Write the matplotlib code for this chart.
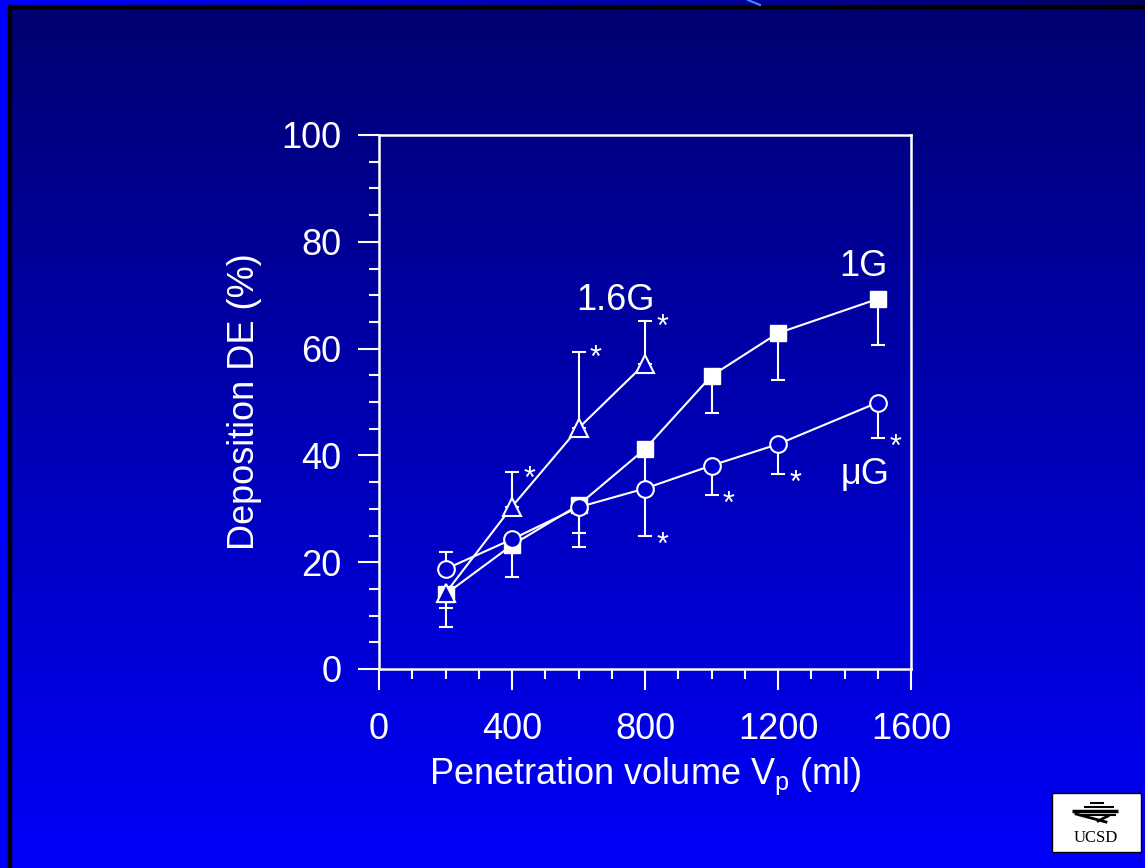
import numpy as np
import matplotlib
matplotlib.use('Agg')
import matplotlib.pyplot as plt
from matplotlib.patches import Rectangle

plt.rcParams['font.family'] = ['Liberation Sans', 'DejaVu Sans']

# data
vol_16g = [200, 400, 600, 800]
de_16g = [14.2, 30.4, 45.1, 57.2]
err_16g_lo = [6.3, 0, 0, 0]
err_16g_hi = [0, 6.4, 14.2, 8.0]

vol_1g = [200, 400, 600, 800, 1000, 1200, 1500]
de_1g = [14.0, 23.2, 30.7, 41.2, 54.9, 62.9, 69.3]
err_1g_lo = [2.6, 5.9, 7.9, 7.4, 6.9, 8.7, 8.6]

vol_ug = [200, 400, 600, 800, 1000, 1200, 1500]
de_ug = [18.7, 24.3, 30.3, 33.8, 38.1, 42.1, 49.9]
err_ug_lo = [0, 0, 4.8, 8.9, 5.5, 5.6, 6.7]
err_ug_hi = [3.2, 0, 0, 0, 0, 0, 0]

star_16g = [1, 2, 3]      # indices with significance marks
star_ug = [3, 4, 5, 6]

W, H = 1145, 868
fig = plt.figure(figsize=(W / 100, H / 100), dpi=100)

# slide background
bg = fig.add_axes([0, 0, 1, 1])
bg.set_xlim(0, W)
bg.set_ylim(H, 0)
bg.axis('off')
grad = np.linspace(0, 1, 256).reshape(-1, 1)
top_c = np.array([0, 0, 112]) / 255
bot_c = np.array([0, 0, 250]) / 255
img = top_c + grad[..., None] * (bot_c - top_c)
bg.imshow(img, extent=[0, W, H, 0], aspect='auto', zorder=0)
# frame strips
strip = np.linspace(0, 1, 256).reshape(1, -1)
left_c = np.array([0, 0, 255]) / 255
right_c = np.array([0, 0, 100]) / 255
simg = left_c + strip[..., None] * (right_c - left_c)
bg.imshow(simg, extent=[0, W, 5, 0], aspect='auto', zorder=1)
bg.add_patch(Rectangle((0, 0), 8, H, color='#0000ff', zorder=2))
bg.add_patch(Rectangle((8, 5), 2.5, H, color='black', zorder=3))
bg.add_patch(Rectangle((8, 5), W, 2.5, color='black', zorder=3))
bg.plot([748, 760], [0, 5], color='#3d8cff', lw=1.5, zorder=4)

# UCSD logo
bg.add_patch(Rectangle((1052, 793), 89, 59, facecolor='white', edgecolor='black', lw=1, zorder=5))
bg.text(1096, 838, 'UCSD', family=['Liberation Serif'], fontsize=12, color='black',
        ha='center', va='center', zorder=6)
for (x0, x1, y, lw) in [(1090, 1104, 803, 1.5), (1084, 1114, 807, 1.5),
                        (1072, 1118, 811, 2.5), (1078, 1116, 815, 1.5)]:
    bg.plot([x0, x1], [y, y], color='black', lw=lw, zorder=6, solid_capstyle='butt')
bg.plot([1076, 1106], [814, 822], color='black', lw=2, zorder=6)
bg.plot([1098, 1108], [821, 816], color='black', lw=2, zorder=6)

ax = fig.add_axes([379 / W, 1 - 669 / H, 532 / W, 534 / H])
ax.patch.set_alpha(0)

white = 'white'
fill = '#0000c8'
ax.errorbar(vol_1g, de_1g, yerr=[err_1g_lo, [0] * 7], color=white, lw=1.5,
            marker='s', ms=11.5, mfc=white, mec=white, capsize=5, capthick=1.5,
            elinewidth=1.5, zorder=3)
ax.errorbar(vol_16g, de_16g, yerr=[err_16g_lo, err_16g_hi], color=white, lw=1.5,
            marker='^', ms=13, mfc=fill, mec=white, mew=1.5, capsize=5,
            capthick=1.5, elinewidth=1.5, zorder=4)
ax.errorbar(vol_ug, de_ug, yerr=[err_ug_lo, err_ug_hi], color=white, lw=1.5,
            marker='o', ms=12, mfc=fill, mec=white, mew=1.5, capsize=5,
            capthick=1.5, elinewidth=1.5, zorder=5)

for i in star_16g:
    ax.annotate('*', (vol_16g[i], de_16g[i] + err_16g_hi[i]), xytext=(12.5, -5),
                textcoords='offset points', color=white, fontsize=22,
                ha='center', va='center')
for i in star_ug:
    ax.annotate('*', (vol_ug[i], de_ug[i] - err_ug_lo[i]), xytext=(12.5, -7),
                textcoords='offset points', color=white, fontsize=22,
                ha='center', va='center')

ax.text(712, 67.2, '1.6G', color=white, fontsize=26, ha='center', va='baseline')
ax.text(1458, 73.6, '1G', color=white, fontsize=26, ha='center', va='baseline')
ax.text(1461, 34.6, '\u03bcG', color=white, fontsize=26, ha='center', va='baseline')

ax.set_xlim(0, 1600)
ax.set_ylim(0, 100)
ax.set_xticks([0, 400, 800, 1200, 1600])
ax.set_xticks(np.arange(0, 1601, 100), minor=True)
ax.set_yticks([0, 20, 40, 60, 80, 100])
ax.set_yticks(np.arange(0, 101, 5), minor=True)
for s in ax.spines.values():
    s.set_color(white)
    s.set_linewidth(1.8)
ax.tick_params(which='both', direction='out', colors=white, width=1.5,
               top=False, right=False)
ax.tick_params(which='major', length=15, labelsize=26)
ax.tick_params(axis='x', which='major', pad=16)
ax.tick_params(axis='y', which='major', pad=12)
ax.tick_params(which='minor', length=7.5)

ax.set_xlabel('Penetration volume V$_\\mathregular{p}$ (ml)', color=white, fontsize=26, labelpad=6)
ax.set_ylabel('Deposition DE (%)', color=white, fontsize=26, labelpad=14)

fig.savefig('out.png', dpi=100)
